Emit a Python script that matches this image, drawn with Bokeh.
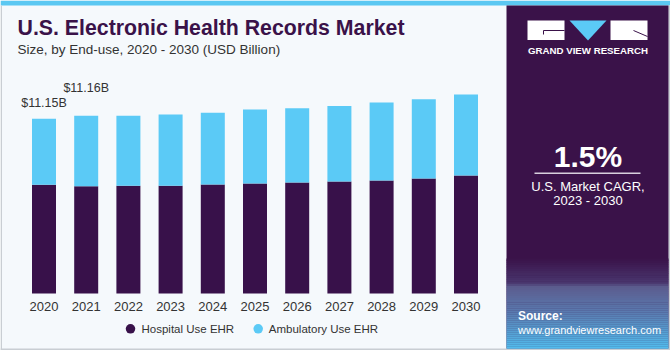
from bokeh.plotting import figure
from bokeh.models import Range1d, ColumnDataSource
from bokeh.core.properties import value
from bokeh.embed import file_html
from bokeh.resources import INLINE

# ---------------- data ----------------
years = [2020, 2021, 2022, 2023, 2024, 2025, 2026, 2027, 2028, 2029, 2030]
hospital = [6.94, 6.85, 6.87, 6.87, 6.96, 7.02, 7.08, 7.15, 7.21, 7.34, 7.53]
ambulatory = [4.21, 4.49, 4.47, 4.55, 4.58, 4.72, 4.74, 4.81, 4.98, 5.06, 5.17]
series_names = ["Hospital Use EHR", "Ambulatory Use EHR"]
label_years = [2020, 2021]
label_texts = ["$11.15B", "$11.16B"]

title = "U.S. Electronic Health Records Market"
subtitle = "Size, by End-use, 2020 - 2030 (USD Billion)"
cagr = "1.5%"

# ---------------- styles ----------------
DARK = "#38114a"
LIGHT = "#5bcaf6"
BG = "#f5f9fc"
PANEL = "#3a1249"
TXT = "#333333"
FONT = "Liberation Sans"
DESC = 0.21  # descent fraction used to place baselines

# pixel <-> data mapping for layout (whole canvas is the frame)
W, H = 670, 350
X0, DXP = 43.5, 42.2      # px centre of first bar, px per year
Y0, SYP = 293.0, 15.67    # px baseline (from top), px per billion


def dx(px):
    return years[0] + (px - X0) / DXP


def dy(py):
    return (Y0 - py) / SYP


p = figure(width=W, height=H, x_range=Range1d(dx(0), dx(W)), y_range=Range1d(dy(H), dy(0)),
           x_axis_type=None, y_axis_type=None, output_backend="svg", toolbar_location=None,
           min_border=0, background_fill_color=BG, border_fill_color=BG)
p.outline_line_color = None
p.grid.visible = False


def box(l, r, t, b, color, alpha=1.0):
    p.quad(left=dx(l), right=dx(r), top=dy(t), bottom=dy(b), fill_color=color,
           line_color=None, fill_alpha=alpha)


def txt(x, y, s, size, color, style="normal", align="left", font=FONT):
    # y is the wanted baseline in px from top
    p.text(x=[dx(x)], y=[dy(y + DESC * size)], text=[s], text_font=value(font),
           text_font_size=f"{size}px", text_font_style=style, text_color=color,
           text_align=align, text_baseline="bottom")


# frame borders
box(0, W, 0, 5, "#5bc8f2")
box(0, 1.5, 5, H, "#c9ced3")
box(W - 2, W, 5, H, "#c9ced3")
box(0, W, H - 2, H, "#c9ced3")

# right panel
box(506, 668, 5, 348, PANEL)


def hex2rgb(h):
    h = h.lstrip("#")
    return [int(h[i:i + 2], 16) for i in (0, 2, 4)]


def lerp(c1, c2, t):
    a, b = hex2rgb(c1), hex2rgb(c2)
    return "#%02x%02x%02x" % tuple(int(round(a[i] + (b[i] - a[i]) * t)) for i in range(3))


stops = [(258, PANEL), (283, "#4a3870"), (285, "#5b5a8c"), (310, "#5a78ad"), (348, "#52bdee")]
for (y1, c1), (y2, c2) in zip(stops[:-1], stops[1:]):
    n = max(1, int((y2 - y1) / 2))
    for k in range(n):
        ya = y1 + (y2 - y1) * k / n
        yb = y1 + (y2 - y1) * (k + 1) / n
        box(506, 668, ya, yb + 0.3, lerp(c1, c2, (k + 0.5) / n))

# logo
box(527, 564, 20, 39.5, "white")
box(610, 647, 20, 39.5, "white")
p.patch(x=[dx(569), dx(606), dx(587.5)], y=[dy(20), dy(20), dy(40)], fill_color=LIGHT, line_color=None)
p.line(x=[dx(543), dx(564)], y=[dy(30), dy(30)], line_color=PANEL, line_width=1)
p.line(x=[dx(543), dx(543)], y=[dy(30), dy(34)], line_color=PANEL, line_width=1)
p.line(x=[dx(633), dx(647)], y=[dy(30), dy(36)], line_color=PANEL, line_width=1)
txt(587.5, 53.5, "GRAND VIEW RESEARCH", 9.7, "white", "bold", "center")

# CAGR
txt(587.5, 166, cagr, 30, "white", "bold", "center")
p.line(x=[dx(534), dx(640)], y=[dy(172.7), dy(172.7)], line_color="#d8d0de", line_width=1.5)
txt(587.5, 190.5, "U.S. Market CAGR,", 13, "white", "normal", "center")
txt(587.5, 205, "2023 - 2030", 13, "white", "normal", "center")

# source
txt(517.5, 319.5, "Source:", 12, "white", "bold")
txt(517.5, 333, "www.grandviewresearch.com", 11, "white")

# titles
txt(17, 35, title, 21.3, PANEL, "bold")
txt(17, 53.5, subtitle, 13.5, TXT)

# ---------------- bars ----------------
totals = [h + a for h, a in zip(hospital, ambulatory)]
src = ColumnDataSource(dict(x=years, hosp=hospital, tot=totals, zero=[0] * len(years)))
bw = 24 / DXP
p.vbar(x="x", width=bw, bottom="zero", top="hosp", source=src, fill_color=DARK, line_color=None)
p.vbar(x="x", width=bw, bottom="hosp", top="tot", source=src, fill_color=LIGHT, line_color=None)

# value labels (baseline gap above bar top in px)
lab_y = [totals[years.index(yv)] for yv in label_years]
gaps_px = [11.8, 23.3]
p.text(x=label_years, y=[v + (g - DESC * 12.5) / SYP for v, g in zip(lab_y, gaps_px)],
       text=label_texts, text_font=value(FONT), text_font_size="12.5px", text_color=TXT,
       text_align="center", text_baseline="bottom")

# year labels
p.text(x=years, y=[dy(307.5 + DESC * 13)] * len(years), text=[str(y) for y in years],
       text_font=value(FONT), text_font_size="13px", text_color=TXT,
       text_align="center", text_baseline="bottom")

# legend
p.scatter(x=[dx(130), dx(257.7)], y=[dy(328.3)] * 2, size=9.5, marker="circle",
          fill_color=[DARK, LIGHT], line_color=None)
txt(141, 332.5, series_names[0], 11.5, TXT)
txt(268.3, 332.5, series_names[1], 11.5, TXT)

open("out.html", "w").write(file_html(p, INLINE))
